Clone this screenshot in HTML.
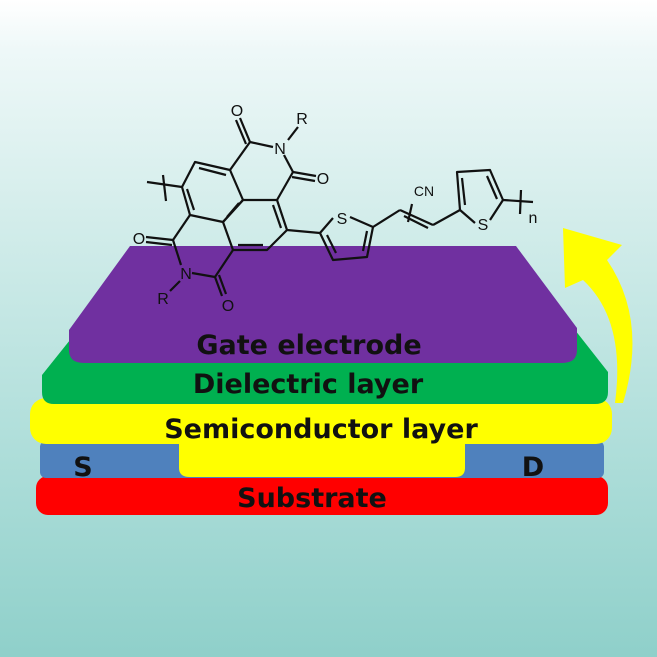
<!DOCTYPE html>
<html><head><meta charset="utf-8"><style>
html,body{margin:0;padding:0;width:657px;height:657px;overflow:hidden}
body{background:linear-gradient(180deg,#ffffff 0px,#eef8f8 50px,#d6eeec 200px,#b3e0dc 420px,#8fd0ca 657px)}
svg{display:block}
text{font-family:"Liberation Sans",sans-serif}
.l{font-family:"DejaVu Sans","Liberation Sans",sans-serif;font-weight:bold;font-size:27px;fill:#111;text-anchor:middle}
.a{font-size:16px;fill:#111;text-anchor:middle}
</style></head><body>
<svg width="657" height="657" viewBox="0 0 657 657">
<rect x="36" y="476" width="572" height="39" rx="12" fill="#ff0000"/>
<rect x="40" y="441" width="564" height="37" rx="6" fill="#4f81bd"/>
<path d="M179 440 L465 440 L465 468 Q465 477 455 477 L190 477 Q179 477 179 468 Z" fill="#ffff00"/>
<rect x="30" y="398" width="582" height="46" rx="16" fill="#ffff00"/>
<path d="M78 330 L575 330 L608 372 L608 392 Q608 404 595 404 L54 404 Q42 404 42 392 L42 375 Z" fill="#00b050"/>
<path d="M130 246 L516 246 L577 328 L577 350 Q577 363 562 363 L84 363 Q69 363 69 350 L69 330 Z" fill="#7030a0"/>
<path d="M615 403 Q626 320 583 280 L565 288 L563 228 L622 245 L607 260 Q648 320 623 403 Z" fill="#ffff00"/>
<g stroke="#111" stroke-width="2.2" fill="none" stroke-linejoin="round">
<polygon points="195,162 230,170 243,200 223,222 190,215 182,187"/>
<polygon points="243,200 277,200 287,230 267,250 233,250 223,222"/>
<line x1="199" y1="168" x2="226" y2="175"/>
<line x1="187" y1="189" x2="194" y2="210"/>
<line x1="227" y1="217" x2="239" y2="203" />
<line x1="273" y1="205" x2="281" y2="228"/>
<line x1="238" y1="245" x2="263" y2="245"/>
<line x1="230" y1="170" x2="250" y2="142"/>
<line x1="250" y1="142" x2="240" y2="118"/><line x1="246" y1="144" x2="236" y2="120"/>
<line x1="250" y1="142" x2="273" y2="147"/>
<line x1="288" y1="140" x2="298" y2="127"/>
<line x1="284" y1="155" x2="293" y2="172"/>
<line x1="293" y1="172" x2="316" y2="176"/><line x1="292" y1="177" x2="315" y2="181"/>
<line x1="293" y1="172" x2="277" y2="200"/>
<line x1="190" y1="215" x2="173" y2="240"/>
<line x1="173" y1="240" x2="146" y2="237"/><line x1="172" y1="245" x2="146" y2="242"/>
<line x1="173" y1="240" x2="181" y2="265"/>
<line x1="192" y1="273" x2="215" y2="277"/>
<line x1="180" y1="281" x2="170" y2="291"/>
<line x1="215" y1="277" x2="233" y2="250"/>
<line x1="215" y1="277" x2="222" y2="296"/><line x1="219" y1="275" x2="226" y2="294"/>
<line x1="182" y1="187" x2="147" y2="182"/>
<line x1="163" y1="175" x2="166" y2="201"/>
<line x1="287" y1="230" x2="320" y2="233"/>
<polyline points="333,218 320,233 333,260 367,257 373,227 350,217"/>
<line x1="327" y1="235" x2="336" y2="253"/>
<line x1="363" y1="251" x2="367" y2="231"/>
<line x1="373" y1="227" x2="400" y2="210"/>
<line x1="400" y1="210" x2="433" y2="225"/>
<line x1="404" y1="216" x2="428" y2="228"/>
<line x1="412" y1="204" x2="408" y2="222"/>
<line x1="433" y1="225" x2="460" y2="210"/>
<polyline points="475,223 460,210 457,172 490,170 503,200 490,220"/>
<line x1="465" y1="205" x2="462" y2="178"/>
<line x1="487" y1="176" x2="497" y2="199"/>
<line x1="503" y1="200" x2="533" y2="202"/>
<line x1="521" y1="190" x2="520" y2="214"/>
</g>
<g class="a">
<text x="237" y="116">O</text>
<text x="302" y="124">R</text>
<text x="280" y="154">N</text>
<text x="323" y="184">O</text>
<text x="139" y="244">O</text>
<text x="186" y="279">N</text>
<text x="163" y="304">R</text>
<text x="228" y="311">O</text>
<text x="342" y="224">S</text>
<text x="424" y="196" style="font-size:14px">CN</text>
<text x="483" y="230">S</text>
<text x="533" y="223">n</text>
</g>
<text class="l" x="309" y="354">Gate electrode</text>
<text class="l" x="308" y="393">Dielectric layer</text>
<text class="l" x="321" y="438">Semiconductor layer</text>
<text class="l" x="83" y="476">S</text>
<text class="l" x="533" y="476">D</text>
<text class="l" x="312" y="507">Substrate</text>
</svg>
</body></html>
